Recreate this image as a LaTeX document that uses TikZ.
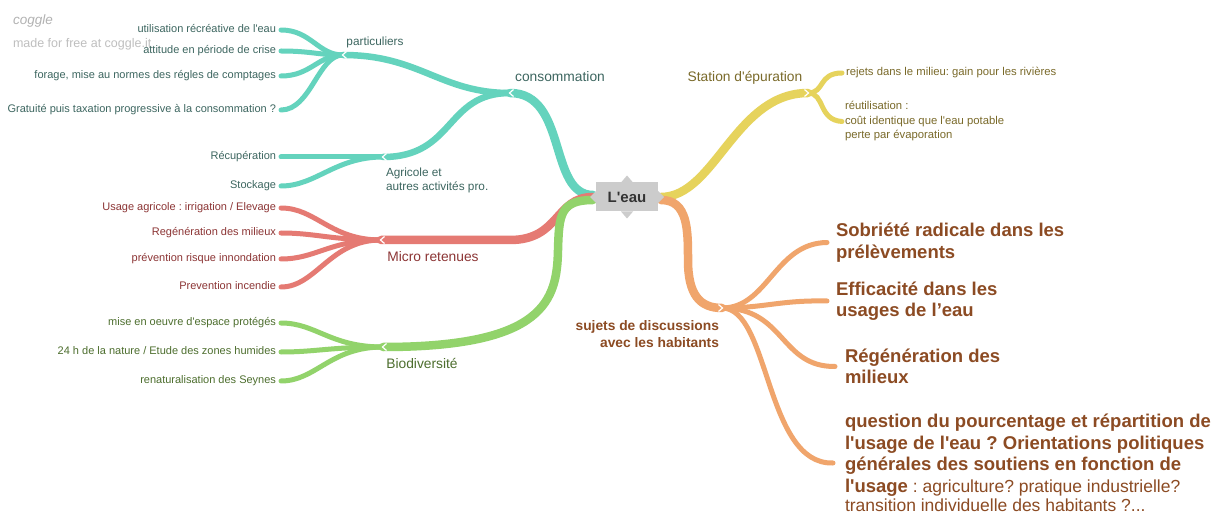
\documentclass[tikz,border=0pt]{standalone}
\usepackage{fontspec}
\setmainfont{Liberation Sans}[Ligatures=TeXOff]
\frenchspacing
\usetikzlibrary{backgrounds}
\definecolor{teal1}{HTML}{64D3BD}
\definecolor{tealtxt}{HTML}{3D6660}
\definecolor{red1}{HTML}{E57A73}
\definecolor{redtxt}{HTML}{8C3535}
\definecolor{grn1}{HTML}{92D36B}
\definecolor{grntxt}{HTML}{4D6E2E}
\definecolor{yel1}{HTML}{E6D35C}
\definecolor{yeltxt}{HTML}{7A6A2A}
\definecolor{org1}{HTML}{F0A56C}
\definecolor{orgtxt}{HTML}{8C4B23}
\definecolor{boxgray}{HTML}{CCCCCC}
\begin{document}
\begin{tikzpicture}[x=1pt,y=-1pt,
  every node/.style={inner sep=0pt, outer sep=0pt},
  leafL/.style={anchor=east, text height=8pt, text depth=2.5pt, font=\fontsize{11}{14}\selectfont},
  leafR/.style={anchor=west, align=left, font=\fontsize{11.3}{14.5}\selectfont},
  bigtxt/.style={anchor=west, align=left, text=orgtxt, font=\bfseries\fontsize{18.5}{21.5}\selectfont},
  midtxt/.style={font=\fontsize{13.8}{16}\selectfont},
  subtxt/.style={font=\fontsize{11.8}{14}\selectfont},
  br0/.style={line width=8.5pt, line cap=round},
  br1/.style={line width=6.5pt, line cap=round},
  br2/.style={line width=5pt, line cap=round},
  notch/.style={white, line width=1.2pt},
]
\useasboundingbox (0,0) rectangle (1216,513);

% watermark
\node[anchor=west, text=black!30, font=\itshape\fontsize{13.5}{16}\selectfont] (wm1) at (13,21) {coggle};
\node[anchor=west, text=black!25, font=\fontsize{12.5}{15}\selectfont] (wm2) at (13,44) {made for free at coggle.it};

% centre
\node[fill=boxgray, minimum width=62pt, minimum height=29pt, text=black!80,
      font=\bfseries\fontsize{15}{18}\selectfont] (c) at (627,197) {L'eau};
\fill[boxgray] ([xshift=-6pt]c.north) -- ([yshift=7pt]c.north) -- ([xshift=6pt]c.north) -- cycle;
\fill[boxgray] ([xshift=-6pt]c.south) -- ([yshift=-7pt]c.south) -- ([xshift=6pt]c.south) -- cycle;
\fill[boxgray] ([yshift=6pt]c.west) -- ([xshift=-6pt]c.west) -- ([yshift=-6pt]c.west) -- cycle;
\fill[boxgray] ([yshift=6pt]c.east) -- ([xshift=6pt]c.east) -- ([yshift=-6pt]c.east) -- cycle;

% level 2 labels
\node[subtxt, text=tealtxt] (part) at (375,42) {particuliers};
\node[midtxt, text=tealtxt] (cons) at (560,77) {consommation};
\node[subtxt, text=tealtxt, anchor=west, align=left] (agr) at (386,180) {Agricole et\\autres activités pro.};
\node[midtxt, text=redtxt] (micro) at (433,257) {Micro retenues};
\node[midtxt, text=grntxt] (bio) at (422,363) {Biodiversité};
\node[midtxt, text=yeltxt] (sta) at (745,78) {Station d'épuration};
\node[font=\bfseries\fontsize{13.8}{17}\selectfont, text=orgtxt, align=right, anchor=east] (suj) at (719,334) {sujets de discussions\\avec les habitants};

% left leaves
\node[leafL, text=tealtxt] (t1) at (276,30) {utilisation récréative de l'eau};
\node[leafL, text=tealtxt] (t2) at (276,51) {attitude en période de crise};
\node[leafL, text=tealtxt] (t3) at (276,76) {forage, mise au normes des régles de comptages};
\node[leafL, text=tealtxt] (t4) at (276,110) {Gratuité puis taxation progressive à la consommation ?};
\node[leafL, text=tealtxt] (t5) at (276,157) {Récupération};
\node[leafL, text=tealtxt] (t6) at (276,186) {Stockage};
\node[leafL, text=redtxt] (r1) at (276,208) {Usage agricole : irrigation / Elevage};
\node[leafL, text=redtxt] (r2) at (276,233) {Regénération des milieux};
\node[leafL, text=redtxt] (r3) at (276,259) {prévention risque innondation};
\node[leafL, text=redtxt] (r4) at (276,287) {Prevention incendie};
\node[leafL, text=grntxt] (g1) at (276,323) {mise en oeuvre d'espace protégés};
\node[leafL, text=grntxt] (g2) at (276,352) {24 h de la nature / Etude des zones humides};
\node[leafL, text=grntxt] (g3) at (276,381) {renaturalisation des Seynes};

% right leaves
\node[leafR, text=yeltxt] (y1) at (846,73) {rejets dans le milieu: gain pour les rivières};
\node[leafR, text=yeltxt] (y2) at (845,121.5) {réutilisation :\\coût identique que l'eau potable\\perte par évaporation};
\node[bigtxt] (o1) at (836,242.5) {Sobriété radicale dans les\\prélèvements};
\node[bigtxt] (o2) at (836,301) {Efficacité dans les\\usages de l’eau};
\node[bigtxt] (o3) at (845,366.5) {Régénération des\\milieux};
\node[bigtxt] (o4) at (845,463) {question du pourcentage et répartition de\\l'usage de l'eau ? Orientations politiques\\générales des soutiens en fonction de\\l'usage{\mdseries\fontsize{17.5}{21.5}\selectfont{} : agriculture? pratique industrielle?}\\[-2pt]{\mdseries\fontsize{17.5}{21.5}\selectfont transition individuelle des habitants ?...}};

% junctions
\coordinate (cl) at ([xshift=-3pt]c.west);
\coordinate (cr) at ([xshift=3pt]c.east);
\coordinate (jcons) at (510,93);
\coordinate (jpart) at (343,55);
\coordinate (jagr) at (383,157);
\coordinate (jmicro) at (381,240);
\coordinate (jbio) at (383,347);
\coordinate (jsta) at (808,93);
\coordinate (jsuj) at (722,308);

\begin{pgfonlayer}{background}
\fill[white] (0,0) rectangle (1216,513);
% teal
\draw[br0, teal1] ([yshift=2pt]cl) .. controls (548,195) and (568,93) .. (jcons);
\draw[br1, teal1] (jcons) .. controls (440,93) and (420,55) .. (jpart);
\draw[br1, teal1] (jcons) .. controls (445,93) and (455,157) .. (jagr);
\foreach \n in {t1,t2,t3,t4}
  \draw[br2, teal1] (jpart) .. controls (318,55) and ([xshift=35pt]\n.east) .. ([xshift=5pt]\n.east);
\foreach \n in {t5,t6}
  \draw[br2, teal1] (jagr) .. controls (335,157) and ([xshift=40pt]\n.east) .. ([xshift=5pt]\n.east);
% red
\draw[br0, red1] (cl) .. controls (555,197) and (560,240) .. (510,240) -- (jmicro);
\foreach \n in {r1,r2,r3,r4}
  \draw[br2, red1] (jmicro) .. controls (330,240) and ([xshift=40pt]\n.east) .. ([xshift=5pt]\n.east);
% green
\draw[br0, grn1] ([yshift=-3pt]cl) .. controls (560,200) and (559,215) .. (558,250)
   .. controls (557,300) and (545,347) .. (jbio);
\foreach \n in {g1,g2,g3}
  \draw[br2, grn1] (jbio) .. controls (330,347) and ([xshift=40pt]\n.east) .. ([xshift=5pt]\n.east);
% yellow
\draw[br0, yel1] (cr) .. controls (715,197) and (735,93) .. (jsta);
\draw[br2, yel1] (jsta) .. controls (825,93) and (818,73) .. ([xshift=-4pt]y1.west);
\draw[br2, yel1] (jsta) .. controls (825,93) and (818,120) .. ([xshift=-3pt]y2.west);
% orange
\draw[br0, org1] ([yshift=-3pt]cr) .. controls (688,200) and (688,230) .. (688,260)
   .. controls (688,295) and (700,308) .. (jsuj);
\draw[br2, org1] (jsuj) .. controls (768,308) and (775,243) .. ([xshift=-9pt]o1.west);
\draw[br2, org1] (jsuj) .. controls (765,308) and (780,300) .. ([xshift=-9pt]o2.west);
\draw[br2, org1] (jsuj) .. controls (785,308) and (780,367) .. ([xshift=-10pt]o3.west);
\draw[br2, org1] (jsuj) .. controls (770,308) and (765,465) .. ([xshift=-12pt]o4.west);
% notches
\foreach \j in {jcons,jpart,jagr,jmicro,jbio}
  \draw[notch] ([shift={(3.5,-3.5)}]\j) -- ([shift={(-0.5,0)}]\j) -- ([shift={(3.5,3.5)}]\j);
\foreach \j in {jsta,jsuj}
  \draw[notch] ([shift={(-3.5,-3.5)}]\j) -- ([shift={(0.5,0)}]\j) -- ([shift={(-3.5,3.5)}]\j);
\end{pgfonlayer}
\end{tikzpicture}
\end{document}
